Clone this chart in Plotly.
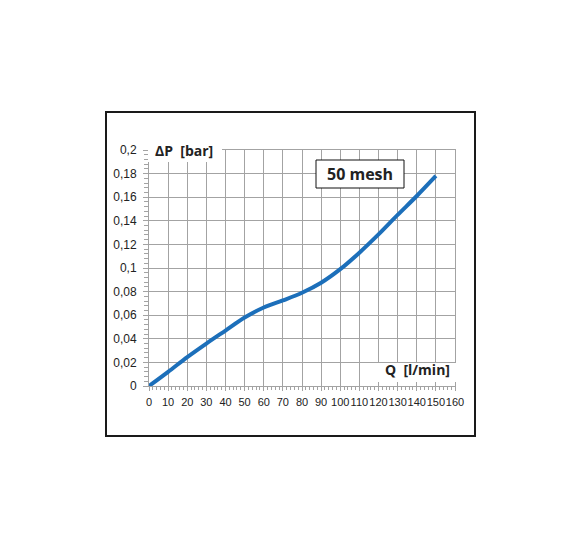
import plotly.graph_objects as go

# Data
flow_lpm = [0, 10, 20, 30, 40, 50, 60, 70, 80, 90, 100, 110, 120, 130, 140, 150]
dp_bar = [0, 0.012, 0.0245, 0.036, 0.047, 0.058, 0.0665, 0.0725, 0.079, 0.0875,
          0.099, 0.113, 0.1285, 0.145, 0.161, 0.178]

x_ticks = list(range(0, 161, 10))
x_ticktext = [str(v) for v in x_ticks]
y_ticks = [0, 0.02, 0.04, 0.06, 0.08, 0.1, 0.12, 0.14, 0.16, 0.18, 0.2]
y_ticktext = ["0", "0,02", "0,04", "0,06", "0,08", "0,1", "0,12", "0,14", "0,16", "0,18", "0,2"]

OFF = 8  # page body margin
W, H = 581, 549
L, T = 149 - OFF, 150 - OFF
R = W - (455 - OFF)
B = H - (386 - OFF)
pw, ph = W - L - R, H - T - B


def px_x(p):
    return (p - OFF - L) / pw


def px_y(p):
    return (H - B - (p - OFF)) / ph


fig = go.Figure()
fig.add_trace(go.Scatter(
    x=flow_lpm, y=dp_bar, mode="lines",
    line=dict(color="#1c6fba", width=4, shape="spline", smoothing=0.8),
    showlegend=False, hoverinfo="skip"))

grid = "#a3a3a3"
fig.update_xaxes(
    range=[0, 160], tickmode="array", tickvals=x_ticks, ticktext=x_ticktext,
    tickangle=0, showgrid=True, gridcolor=grid, gridwidth=1,
    showline=True, linecolor=grid, linewidth=1, mirror=True,
    ticks="outside", ticklen=4, tickcolor=grid, zeroline=False,
    minor=dict(dtick=2, ticks="outside", ticklen=3, tickcolor=grid, showgrid=False),
    tickfont=dict(family="Liberation Sans, Arial", size=11, color="#222222"),
    ticklabelstandoff=2, fixedrange=True)
fig.update_yaxes(
    range=[0, 0.2], tickmode="array", tickvals=y_ticks, ticktext=y_ticktext,
    showgrid=True, gridcolor=grid, gridwidth=1,
    showline=True, linecolor=grid, linewidth=1, mirror=True,
    ticks="outside", ticklen=5, tickcolor=grid, zeroline=False,
    minor=dict(dtick=0.004, ticks="outside", ticklen=4, tickcolor=grid, showgrid=False),
    tickfont=dict(family="Liberation Sans, Arial", size=12, color="#222222"),
    ticklabelstandoff=4, fixedrange=True)

shapes = [
    # outer frame
    dict(type="rect", xref="paper", yref="paper",
         x0=px_x(106), x1=px_x(475), y0=px_y(436), y1=px_y(112),
         line=dict(color="#1a1a1a", width=2), fillcolor="rgba(0,0,0,0)", layer="above"),
    # white backing for axis titles
    dict(type="rect", xref="paper", yref="paper",
         x0=px_x(148), x1=px_x(222), y0=px_y(162), y1=px_y(140),
         line=dict(width=0), fillcolor="white", layer="above"),
    dict(type="rect", xref="paper", yref="paper",
         x0=px_x(378), x1=px_x(462), y0=px_y(382), y1=px_y(363),
         line=dict(width=0), fillcolor="white", layer="above"),
    # "50 mesh" box
    dict(type="rect", xref="paper", yref="paper",
         x0=px_x(316), x1=px_x(404), y0=px_y(188), y1=px_y(160),
         line=dict(color="#111111", width=1), fillcolor="white", layer="above"),
]

annotations = [
    dict(text="<b>ΔP  [bar]</b>", xref="paper", yref="paper",
         x=px_x(153), y=px_y(150), xanchor="left", yanchor="middle",
         showarrow=False, font=dict(family="Open Sans", size=14, color="#222222")),
    dict(text="<b>Q  [l/min]</b>", xref="paper", yref="paper",
         x=px_x(452), y=px_y(369), xanchor="right", yanchor="middle",
         showarrow=False, font=dict(family="Open Sans", size=14, color="#222222")),
    dict(text="<b>50 mesh</b>", xref="paper", yref="paper",
         x=px_x(360), y=px_y(174), xanchor="center", yanchor="middle",
         showarrow=False, font=dict(family="Open Sans", size=16, color="#222222")),
]

fig.update_layout(
    width=W, height=H, autosize=False,
    margin=dict(l=L, r=R, t=T, b=B, pad=0),
    paper_bgcolor="white", plot_bgcolor="white",
    shapes=shapes, annotations=annotations,
    showlegend=False)

fig.write_html("out.html", config={"displayModeBar": False})
